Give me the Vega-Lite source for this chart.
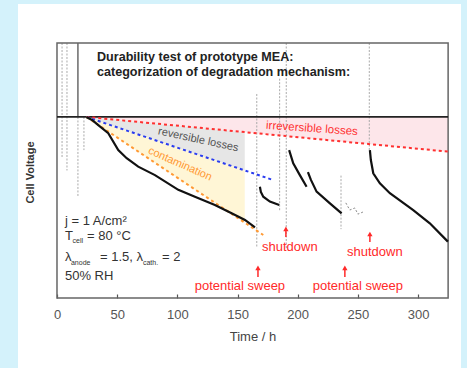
{
  "$schema": "https://vega.github.io/schema/vega-lite/v6.json",
  "width": 443,
  "height": 364,
  "autosize": {"type": "none"},
  "padding": {"left": 18, "top": 4, "right": 6, "bottom": 0},
  "background": "#d4f2fb",
  "config": {"view": {"fill": "white", "stroke": null}, "font": "Liberation Sans"},
  "datasets": {
    "areas": [
      {"grp": "irrev", "h": 24.4, "v": 71, "v2": 71},
      {"grp": "irrev", "h": 325, "v": 71, "v2": 57.4},
      {"grp": "rev", "h": 24.4, "v": 71, "v2": 71},
      {"grp": "rev", "h": 156, "v": 65.0, "v2": 50.0},
      {"grp": "cont", "h": 24.4, "v": 71, "v2": 71},
      {"grp": "cont", "h": 156, "v": 50.0, "v2": 29.55}
    ],
    "guides": [
      {"grp": "irrev", "h": 24.4, "v": 71},
      {"grp": "irrev", "h": 325, "v": 57.4},
      {"grp": "rev", "h": 24.4, "v": 71},
      {"grp": "rev", "h": 179.4, "v": 46.3},
      {"grp": "cont", "h": 24.4, "v": 71},
      {"grp": "cont", "h": 171.4, "v": 24.7}
    ],
    "spikes_light": [
      {"h": 4.2, "v": 100, "v2": 55},
      {"h": 8.3, "v": 100, "v2": 50},
      {"h": 17.4, "v": 71, "v2": 40},
      {"h": 22.4, "v": 71, "v2": 58},
      {"h": 166, "v": 80, "v2": 20},
      {"h": 185, "v": 86, "v2": 34},
      {"h": 190.5, "v": 100, "v2": 19},
      {"h": 236, "v": 48, "v2": 27},
      {"h": 259.5, "v": 100, "v2": 58}
    ],
    "spikes_dark": [
      {"h": 17.4, "v": 100, "v2": 71}
    ],
    "curve": [
      {"seg": 1, "h": 24.4, "v": 71},
      {"seg": 1, "h": 29.1, "v": 69.8},
      {"seg": 1, "h": 34.3, "v": 67.8},
      {"seg": 1, "h": 42.6, "v": 64.6},
      {"seg": 1, "h": 50.9, "v": 58.0},
      {"seg": 1, "h": 57.9, "v": 54.8},
      {"seg": 1, "h": 67.5, "v": 51.5},
      {"seg": 1, "h": 81.4, "v": 48.2},
      {"seg": 1, "h": 100.8, "v": 42.4},
      {"seg": 1, "h": 114.6, "v": 39.7},
      {"seg": 1, "h": 131.2, "v": 36.5},
      {"seg": 1, "h": 145.1, "v": 33.2},
      {"seg": 1, "h": 156.2, "v": 30.6},
      {"seg": 1, "h": 164.5, "v": 27.7},
      {"seg": 2, "h": 168.6, "v": 43.6},
      {"seg": 2, "h": 169.4, "v": 41.6},
      {"seg": 2, "h": 171.4, "v": 39.7},
      {"seg": 2, "h": 176.9, "v": 37.8},
      {"seg": 2, "h": 184.7, "v": 36.5},
      {"seg": 3, "h": 192.9, "v": 58.0},
      {"seg": 3, "h": 196.3, "v": 52.8},
      {"seg": 3, "h": 201.8, "v": 48.2},
      {"seg": 3, "h": 207.4, "v": 43.6},
      {"seg": 4, "h": 208.5, "v": 49.4},
      {"seg": 4, "h": 211.0, "v": 46.3},
      {"seg": 4, "h": 215.7, "v": 41.7},
      {"seg": 4, "h": 226.8, "v": 37.1},
      {"seg": 4, "h": 236.5, "v": 33.2},
      {"seg": 5, "h": 260.0, "v": 58.0},
      {"seg": 5, "h": 260.8, "v": 54.1},
      {"seg": 5, "h": 262.8, "v": 48.9},
      {"seg": 5, "h": 268.3, "v": 45.0},
      {"seg": 5, "h": 276.6, "v": 41.1},
      {"seg": 5, "h": 296.0, "v": 34.5},
      {"seg": 5, "h": 309.8, "v": 29.3},
      {"seg": 5, "h": 324.8, "v": 22.1}
    ],
    "faint": [
      {"h": 240.0, "v": 37.3},
      {"h": 243.3, "v": 34.5},
      {"h": 247.5, "v": 35.3},
      {"h": 250.0, "v": 32.9},
      {"h": 254.2, "v": 33.7}
    ],
    "frame": [{"h": 0, "h2": 325, "v": 0, "v2": 100}],
    "ref": [{"h": 0, "h2": 325, "v": 71}],
    "title": [
      {"h": 33.2, "v": 92.9, "t": "Durability test of prototype MEA:"},
      {"h": 33.2, "v": 87.1, "t": "categorization of degradation mechanism:"}
    ],
    "params": [
      {"h": 6.6, "v": 28.6, "t": "j = 1 A/cm²"},
      {"h": 6.6, "v": 22.7, "t": "T"},
      {"h": 24.9, "v": 22.7, "t": "= 80 °C"},
      {"h": 6.6, "v": 14.5, "t": "λ"},
      {"h": 35.7, "v": 14.5, "t": "= 1.5, λ"},
      {"h": 87.2, "v": 14.5, "t": "= 2"},
      {"h": 6.6, "v": 7.1, "t": "50% RH"}
    ],
    "subs": [
      {"h": 12.9, "v": 21.4, "t": "cell"},
      {"h": 11.6, "v": 13.1, "t": "anode"},
      {"h": 71.4, "v": 13.1, "t": "cath."}
    ],
    "events": [
      {"h": 152, "v": 3.1, "t": "potential sweep"},
      {"h": 250, "v": 3.1, "t": "potential sweep"},
      {"h": 193.5, "v": 18.4, "t": "shutdown"},
      {"h": 264.1, "v": 16.5, "t": "shutdown"}
    ],
    "arrows": [
      {"h": 167, "v": 11.8, "v2": 8.2},
      {"h": 239.2, "v": 11.8, "v2": 8.2},
      {"h": 190.2, "v": 27.1, "v2": 23.9},
      {"h": 260, "v": 25.1, "v2": 22.0}
    ],
    "lab_rev": [{"h": 117.4, "v": 62.0, "t": "reversible losses"}],
    "lab_cont": [{"h": 102.2, "v": 52.5, "t": "contamination"}],
    "lab_irrev": [{"h": 211.8, "v": 66.3, "t": "irreversible losses"}]
  },
  "encoding": {
    "x": {
      "field": "h", "type": "quantitative",
      "scale": {"domain": [-32.4, 335.7], "nice": false, "zero": false},
      "axis": {
        "title": "Time / h", "values": [0, 50, 100, 150, 200, 250, 300],
        "domain": false, "grid": false, "offset": -70,
        "tickSize": -4, "tickColor": "#555", "tickWidth": 1.2,
        "labelPadding": 14, "labelFontSize": 13, "labelColor": "#555",
        "titleFontSize": 13, "titleFontWeight": "normal", "titleColor": "#444",
        "titleX": 234.5, "titleY": 42, "titleBaseline": "alphabetic"
      }
    },
    "y": {
      "field": "v", "type": "quantitative",
      "scale": {"domain": [-27.45, 115.29], "nice": false, "zero": false},
      "axis": {
        "title": "Cell Voltage", "domain": false, "ticks": false, "labels": false, "grid": false,
        "titleX": 12, "titleY": 168, "titleAngle": 270, "titleAlign": "center", "titleBaseline": "middle",
        "titleFontSize": 11, "titleFontWeight": "bold", "titleColor": "#333"
      }
    }
  },
  "layer": [
    {
      "data": {"name": "areas"},
      "mark": {"type": "area", "opacity": 1},
      "encoding": {
        "y2": {"field": "v2"},
        "fill": {"field": "grp", "type": "nominal", "legend": null,
          "scale": {"domain": ["irrev", "rev", "cont"], "range": ["#fde6ea", "#e6e6e6", "#fff6d6"]}},
        "detail": {"field": "grp"}
      }
    },
    {
      "data": {"name": "spikes_light"},
      "mark": {"type": "rule", "strokeWidth": 1, "strokeDash": [2, 1.5], "stroke": "#aaa"},
      "encoding": {"y2": {"field": "v2"}}
    },
    {
      "data": {"name": "spikes_dark"},
      "mark": {"type": "rule", "strokeWidth": 1.2, "stroke": "#444"},
      "encoding": {"y2": {"field": "v2"}}
    },
    {
      "data": {"name": "frame"},
      "mark": {"type": "rect", "filled": false, "stroke": "#666", "strokeWidth": 1.5},
      "encoding": {"x2": {"field": "h2"}, "y2": {"field": "v2"}}
    },
    {
      "data": {"name": "ref"},
      "mark": {"type": "rule", "stroke": "#222", "strokeWidth": 1.8},
      "encoding": {"x2": {"field": "h2"}}
    },
    {
      "data": {"name": "guides"},
      "mark": {"type": "line", "strokeWidth": 2, "strokeDash": [3, 3]},
      "encoding": {
        "stroke": {"field": "grp", "type": "nominal", "legend": null,
          "scale": {"domain": ["irrev", "rev", "cont"], "range": ["#ff3030", "#2a3cf0", "#ff9933"]}}
      }
    },
    {
      "data": {"name": "faint"},
      "mark": {"type": "line", "stroke": "#888", "strokeWidth": 1, "strokeDash": [2, 2]},
      "encoding": {}
    },
    {
      "data": {"name": "curve"},
      "mark": {"type": "line", "stroke": "#111", "strokeWidth": 2.2},
      "encoding": {"detail": {"field": "seg"}}
    },
    {
      "data": {"name": "title"},
      "mark": {"type": "text", "align": "left", "baseline": "alphabetic", "fontSize": 12.6, "fontWeight": "bold", "color": "#222"},
      "encoding": {"text": {"field": "t"}}
    },
    {
      "data": {"name": "params"},
      "mark": {"type": "text", "align": "left", "baseline": "alphabetic", "fontSize": 13, "color": "#333"},
      "encoding": {"text": {"field": "t"}}
    },
    {
      "data": {"name": "subs"},
      "mark": {"type": "text", "align": "left", "baseline": "alphabetic", "fontSize": 7, "color": "#333"},
      "encoding": {"text": {"field": "t"}}
    },
    {
      "data": {"name": "events"},
      "mark": {"type": "text", "align": "center", "baseline": "alphabetic", "fontSize": 13, "color": "#ff2a2a"},
      "encoding": {"text": {"field": "t"}}
    },
    {
      "data": {"name": "arrows"},
      "mark": {"type": "rule", "stroke": "#ff2a2a", "strokeWidth": 1.5},
      "encoding": {"y2": {"field": "v2"}}
    },
    {
      "data": {"name": "arrows"},
      "mark": {"type": "point", "shape": "triangle-up", "filled": true, "size": 28, "color": "#ff2a2a", "opacity": 1},
      "encoding": {}
    },
    {
      "data": {"name": "lab_rev"},
      "mark": {"type": "text", "align": "center", "baseline": "middle", "fontSize": 11, "angle": 12, "color": "#555"},
      "encoding": {"text": {"field": "t"}}
    },
    {
      "data": {"name": "lab_cont"},
      "mark": {"type": "text", "align": "center", "baseline": "middle", "fontSize": 11, "angle": 24, "color": "#ff9933"},
      "encoding": {"text": {"field": "t"}}
    },
    {
      "data": {"name": "lab_irrev"},
      "mark": {"type": "text", "align": "center", "baseline": "middle", "fontSize": 11.5, "angle": 4, "color": "#ff3030"},
      "encoding": {"text": {"field": "t"}}
    }
  ]
}
